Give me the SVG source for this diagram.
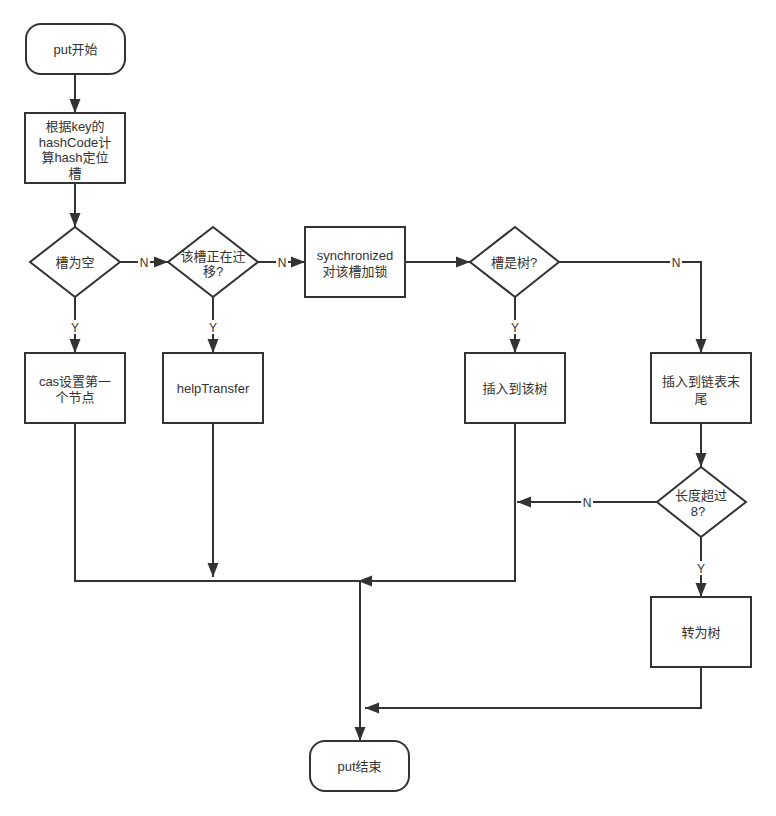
<svg xmlns="http://www.w3.org/2000/svg" width="776" height="816" viewBox="0 0 776 816">
<defs>
<style>
.n{fill:#ffffff;stroke:#333333;stroke-width:2}
.t{font-family:"Liberation Sans","Noto Sans CJK SC",sans-serif;font-size:13px;fill:#333333;text-anchor:middle}
.e{fill:none;stroke:#333333;stroke-width:2}
.lb{fill:#ffffff}
.l{font-family:"Liberation Sans","Noto Sans CJK SC",sans-serif;font-size:12px;fill:#333333;text-anchor:middle}
</style>
<marker id="a" markerUnits="userSpaceOnUse" markerWidth="16" markerHeight="14" refX="15" refY="6.5" orient="auto">
<path d="M1,1 L15,6.5 L1,12 Z" fill="#333333"/>
</marker>
</defs>
<rect width="776" height="816" fill="#ffffff"/>
<g id="connectors">
<path class="e" d="M75,74 V113" marker-end="url(#a)"/>
<path class="e" d="M75,183 V227" marker-end="url(#a)"/>
<path class="e" d="M120,262 H168" marker-end="url(#a)"/>
<path class="e" d="M258,262 H305" marker-end="url(#a)"/>
<path class="e" d="M75,297 V353" marker-end="url(#a)"/>
<path class="e" d="M213,297 V353" marker-end="url(#a)"/>
<path class="e" d="M405,262 H470" marker-end="url(#a)"/>
<path class="e" d="M515,297 V353" marker-end="url(#a)"/>
<path class="e" d="M559,262 H701 V353" marker-end="url(#a)"/>
<path class="e" d="M701,423 V467" marker-end="url(#a)"/>
<path class="e" d="M657,502 H517" marker-end="url(#a)"/>
<path class="e" d="M701,537 V597" marker-end="url(#a)"/>
<path class="e" d="M701,667 V708 H365" marker-end="url(#a)"/>
<path class="e" d="M75,423 V581 H360 V741" marker-end="url(#a)"/>
<path class="e" d="M213,423 V577" marker-end="url(#a)"/>
<path class="e" d="M515,423 V581 H358" marker-end="url(#a)"/>
<rect class="lb" x="138" y="255" width="12" height="14"/><text class="l" x="144" y="267">N</text>
<rect class="lb" x="276" y="255" width="12" height="14"/><text class="l" x="282" y="267">N</text>
<rect class="lb" x="69" y="320" width="12" height="14"/><text class="l" x="75" y="332">Y</text>
<rect class="lb" x="207" y="320" width="12" height="14"/><text class="l" x="213" y="332">Y</text>
<rect class="lb" x="509" y="320" width="12" height="14"/><text class="l" x="515" y="332">Y</text>
<rect class="lb" x="670" y="255" width="12" height="14"/><text class="l" x="676" y="267">N</text>
<rect class="lb" x="581" y="495" width="12" height="14"/><text class="l" x="587" y="507">N</text>
<rect class="lb" x="695" y="561" width="12" height="14"/><text class="l" x="701" y="573">Y</text>
</g>
<g id="start"><rect class="n" x="26" y="24" width="99" height="50" rx="15" ry="15"/><text class="t" x="75.5" y="54">put开始</text></g>
<g id="hash"><rect class="n" x="25" y="113" width="100" height="70"/>
<text class="t" x="75" y="131">根据key的</text><text class="t" x="75" y="147">hashCode计</text><text class="t" x="75" y="162">算hash定位</text><text class="t" x="75" y="178">槽</text></g>
<g id="empty"><polygon class="n" points="75,227 120,262 75,297 30,262"/><text class="t" x="75" y="267">槽为空</text></g>
<g id="moving"><polygon class="n" points="213,227 258,262 213,297 168,262"/><text class="t" x="213" y="261">该槽正在迁</text><text class="t" x="213" y="276">移?</text></g>
<g id="sync"><rect class="n" x="305" y="227" width="100" height="70"/><text class="t" x="355" y="260">synchronized</text><text class="t" x="355" y="276">对该槽加锁</text></g>
<g id="istree"><polygon class="n" points="515,227 559,262 515,297 470,262"/><text class="t" x="514" y="267">槽是树?</text></g>
<g id="cas"><rect class="n" x="25" y="353" width="100" height="70"/><text class="t" x="75" y="386">cas设置第一</text><text class="t" x="75" y="402">个节点</text></g>
<g id="help"><rect class="n" x="163" y="353" width="100" height="70"/><text class="t" x="213" y="393">helpTransfer</text></g>
<g id="inserttree"><rect class="n" x="465" y="353" width="100" height="70"/><text class="t" x="515" y="393">插入到该树</text></g>
<g id="insertlist"><rect class="n" x="651" y="353" width="100" height="70"/><text class="t" x="701" y="386">插入到链表末</text><text class="t" x="701" y="403">尾</text></g>
<g id="length"><polygon class="n" points="701,467 746,502 701,537 657,502"/><text class="t" x="701" y="500">长度超过</text><text class="t" x="698" y="516">8?</text></g>
<g id="totree"><rect class="n" x="651" y="597" width="100" height="70"/><text class="t" x="701" y="637">转为树</text></g>
<g id="end"><rect class="n" x="310" y="741" width="99" height="50" rx="15" ry="15"/><text class="t" x="359.5" y="771">put结束</text></g>
</svg>
